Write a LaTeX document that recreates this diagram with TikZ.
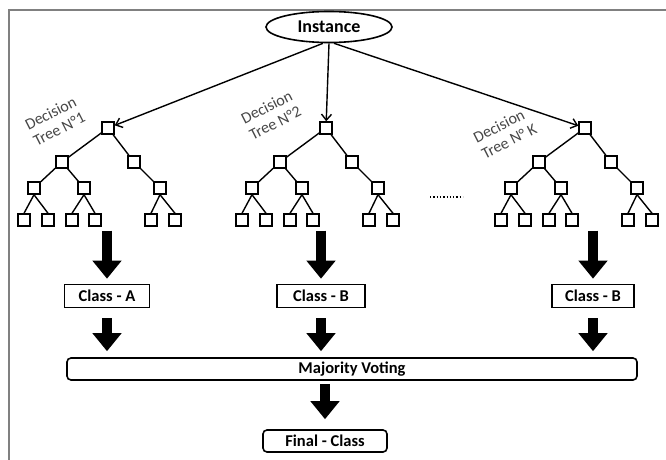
\documentclass[tikz,border=0pt]{standalone}
\usepackage{fontspec}
\setmainfont{Carlito}
\usetikzlibrary{arrows.meta,shapes.geometric}
\tikzset{
  leaf/.style={draw, line width=1.4pt, minimum size=12pt, inner sep=0pt},
  branch/.style={line width=1.4pt},
  classbox/.style={draw, line width=1.6pt, minimum height=23pt, inner sep=2pt,
    font=\fontsize{16.5}{18}\selectfont\bfseries},
  roundbox/.style={classbox, rounded corners=4pt},
  bigarrow/.style={line width=10pt, -{Triangle[width=28pt,length=18pt]}},
  thinarrow/.style={line width=1.4pt, -{Straight Barb[length=6pt,width=10pt]}},
  treelabel/.style={text=black!72, rotate=27, align=left, inner sep=0pt,
    font=\fontsize{16}{18}\selectfont}
}
\begin{document}
\begin{tikzpicture}[x=1pt,y=-1pt]
    \useasboundingbox (0,0) rectangle (666,460);
    % frame
    \draw [black!50, line width=1.5pt] (9,460) -- (9,10) -- (666,10);
    % instance
    \node [draw, ellipse, line width=1.6pt, minimum width=126pt, minimum height=31pt,
      font=\fontsize{18}{20}\selectfont\bfseries] (inst) at (329,27) {Instance};
    % the trees
    \foreach \t/\dx/\sx in {1/0/-6, 2/218/0, 3/477/5} {
      \begin{scope}[xshift=\dx pt]
        \node [leaf] (t\t-r) at (108,128) {};
        \node [leaf] (t\t-a) at (62,162) {};
        \node [leaf] (t\t-b) at (134,162) {};
        \node [leaf] (t\t-aa) at (34,188) {};
        \node [leaf] (t\t-ab) at (84,188) {};
        \node [leaf] (t\t-ba) at (160,188) {};
        \node [leaf] (t\t-aaa) at (24,220) {};
        \node [leaf] (t\t-aab) at (48,220) {};
        \node [leaf] (t\t-aba) at (72,220) {};
        \node [leaf] (t\t-abb) at (95,220) {};
        \node [leaf] (t\t-baa) at (151,220) {};
        \node [leaf] (t\t-bab) at (175,220) {};
        \draw [branch] (t\t-r) -- (t\t-a);
        \draw [branch] (t\t-r) -- (t\t-b);
        \draw [branch] (t\t-a) -- (t\t-aa);
        \draw [branch] (t\t-a) -- (t\t-ab);
        \draw [branch] (t\t-b) -- (t\t-ba);
        \draw [branch] (t\t-aa.south) -- (t\t-aaa.north);
        \draw [branch] (t\t-aa.south) -- (t\t-aab.north);
        \draw [branch] (t\t-ab.south) -- (t\t-aba.north);
        \draw [branch] (t\t-ab.south) -- (t\t-abb.north);
        \draw [branch] (t\t-ba.south) -- (t\t-baa.north);
        \draw [branch] (t\t-ba.south) -- (t\t-bab.north);
        \draw [thinarrow] ([xshift=\sx pt]inst.south) -- (t\t-r);
      \end{scope}
    }
    % tree labels
    \node [treelabel] (lab1) at (55,121) {Decision\\ Tree N°1};
    \node [treelabel] (lab2) at (271,115) {Decision\\ Tree N°2};
    \node [treelabel] (lab3) at (505,133) {Decision\\ Tree N° K};
    \draw [dotted, line width=1.3pt] (430,197) -- (463,197);
    % classes
    \node [classbox, minimum width=85pt] (cla) at (107,296) {Class - A};
    \node [classbox, minimum width=88pt] (clb) at (321,296) {Class - B};
    \node [classbox, minimum width=82pt] (clk) at (593,296) {Class - B};
    \foreach \c in {cla, clb, clk} {
      \draw [bigarrow, shorten >=5pt] ([yshift=53pt]\c.north) -- (\c.north);
    }
    % voting
    \node [roundbox, minimum width=570pt, minimum height=22pt] (vote) at (352,369) {Majority Voting};
    \foreach \c in {cla, clb, clk} {
      \draw [bigarrow, shorten <=10pt, shorten >=6pt] (\c.south) -- (\c.south |- vote.north);
    }
    \node [roundbox, minimum width=124pt, minimum height=22pt] (final) at (325,441) {Final - Class};
    \draw [bigarrow, shorten <=3pt, shorten >=10pt] (vote.south -| final.north) -- (final.north);
\end{tikzpicture}
\end{document}
